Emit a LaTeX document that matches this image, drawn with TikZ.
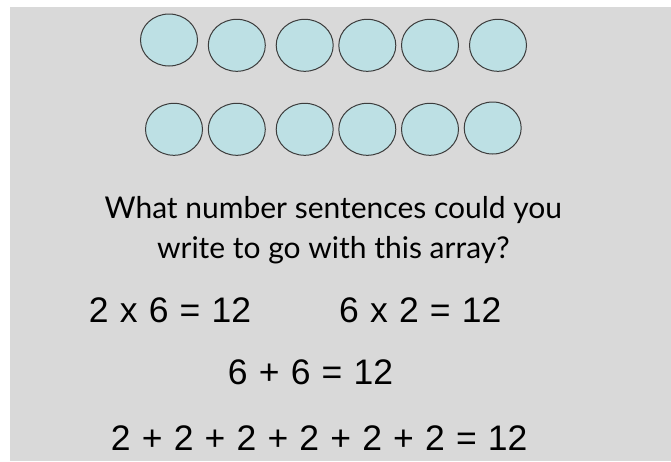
\documentclass[tikz,border=0pt]{standalone}
\usepackage{fontspec}
\usetikzlibrary{shapes.geometric}
\setmainfont{Lato}
\newfontfamily\eqfont{Liberation Sans}
\newcommand\eqspacing{\spaceskip=0.315em\relax}
\definecolor{bggray}{HTML}{D9D9D9}
\definecolor{ballfill}{HTML}{BDE0E4}
\definecolor{ballline}{HTML}{3C3C3C}
\begin{document}
\begin{tikzpicture}[x=1pt,y=-1pt,
  ball/.style={draw=ballline,fill=ballfill,line width=1pt,ellipse,minimum width=57pt,minimum height=52pt,inner sep=0pt},
  question/.style={anchor=base,font=\fontsize{30}{36}\selectfont,text=black,inner sep=0pt},
  sentence/.style={anchor=base,font=\eqfont\fontsize{35.5}{40}\selectfont,text=black,inner sep=0pt}]
\useasboundingbox (0,0) rectangle (671,461);
\fill[bggray] (10,7) rectangle (671,461);
% top row
\node[ball] (t1) at (169,40) {};
\node[ball] (t2) at (236.8,45.3) {};
\node[ball] (t3) at (304.7,45.3) {};
\node[ball] (t4) at (367.3,45.3) {};
\node[ball] (t5) at (430,45.3) {};
\node[ball] (t6) at (498,45.3) {};
% bottom row
\node[ball] (b1) at (174,129.3) {};
\node[ball] (b2) at (236.8,129.3) {};
\node[ball] (b3) at (304.7,129.3) {};
\node[ball] (b4) at (367.3,129.3) {};
\node[ball] (b5) at (430,129.3) {};
\node[ball] (b6) at (492.7,128) {};
% text
\node[question] (q1) at (333.3,218.3) {What number sentences could you};
\node[question] (q2) at (333.3,258) {write to go with this array?};
\node[sentence] (e1) at (170,322.7) {\eqspacing 2 x 6 = 12};
\node[sentence] (e2) at (420.3,322.7) {\eqspacing 6 x 2 = 12};
\node[sentence] (e3) at (310.5,384.3) {\eqspacing 6 + 6 = 12};
\node[sentence] (e4) at (319.2,450) {\eqspacing 2 + 2 + 2 + 2 + 2 + 2 = 12};
\end{tikzpicture}
\end{document}
